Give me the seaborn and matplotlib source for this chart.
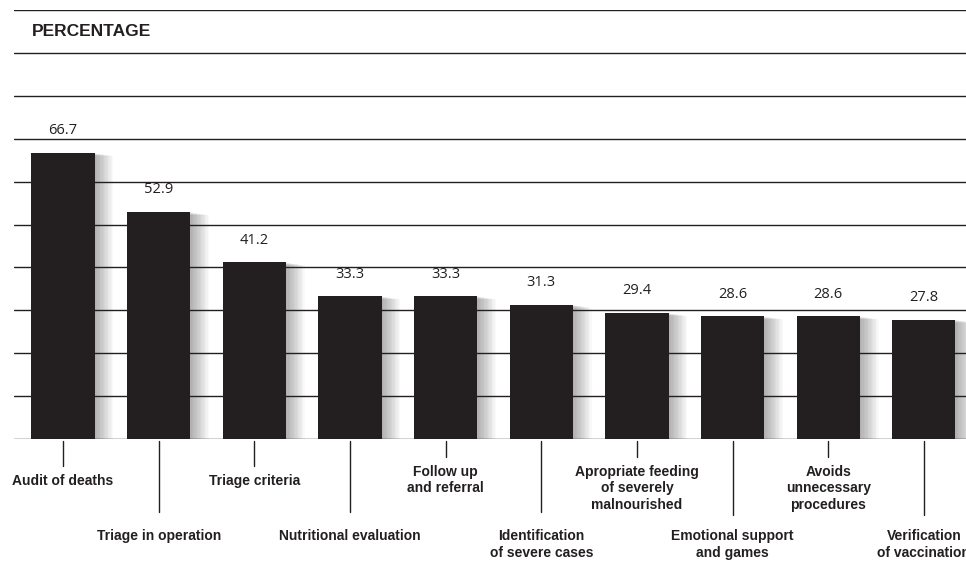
import numpy as np
import pandas as pd
import matplotlib
matplotlib.use("Agg")
import matplotlib.pyplot as plt
import seaborn as sns

# Data
categories = [
    "Audit of deaths",
    "Triage in operation",
    "Triage criteria",
    "Nutritional evaluation",
    "Follow up\nand referral",
    "Identification\nof severe cases",
    "Apropriate feeding\nof severely\nmalnourished",
    "Emotional support\nand games",
    "Avoids\nunnecessary\nprocedures",
    "Verification\nof vaccination",
]
values = [66.7, 52.9, 41.2, 33.3, 33.3, 31.3, 29.4, 28.6, 28.6, 27.8]
y_ticks = list(range(0, 101, 10))

BAR = "#231f20"
LINE = "#231f20"

sns.set_theme(style="white")
plt.rcParams["font.family"] = ["Liberation Sans Narrow", "Liberation Sans", "DejaVu Sans"]

df = pd.DataFrame({"category": categories, "value": values})

fig = plt.figure(figsize=(9.66, 5.63), dpi=100)
ax = fig.add_axes([14 / 966, 124 / 563, 952 / 966, 429 / 563])

# soft drop shadow to the right of each bar
x = np.arange(len(values))
bar_w = 0.66
for i in range(1, 15):
    grow = 0.014 * i
    ax.bar(x + grow / 2, np.array(values) - 0.05 * i, width=bar_w + grow,
           color="black", alpha=0.022, linewidth=0, zorder=0.5)

# horizontal rules
for t in y_ticks:
    ax.axhline(t, color=LINE, linewidth=1.0, zorder=1)

sns.barplot(data=df, x="category", y="value", color=BAR, width=bar_w,
            saturation=1, linewidth=0, ax=ax, zorder=2)

ax.set_xlim(-0.512, 9.44)
ax.set_ylim(0, 100)
ax.axis("off")

# value labels
for i, v in enumerate(values):
    ax.text(i, v + 3.4, f"{v:.1f}", ha="center", va="bottom", fontsize=10.5,
            color="#231f20", family=["Open Sans", "DejaVu Sans"], zorder=3)

# category labels with leader lines
for i, lab in enumerate(categories):
    lines = lab.count("\n") + 1
    if i % 2 == 0:
        end = -6.3 if lines == 1 else -4.2
        top = -8.2 if lines == 1 else -6.0
    else:
        end = -17.0 - (0.6 if i >= 7 else 0)
        top = -21.0
    ax.plot([i, i], [-0.5, end], color=LINE, linewidth=1.0, clip_on=False)
    ax.text(i, top, lab, ha="center", va="top", fontsize=10, fontweight="bold",
            color="#231f20", linespacing=1.25, clip_on=False)

ax.text(-0.33, 95, "PERCENTAGE", ha="left", va="center", fontsize=12.5,
        fontweight="bold", color="#231f20")

fig.savefig("out.png", dpi=100)
